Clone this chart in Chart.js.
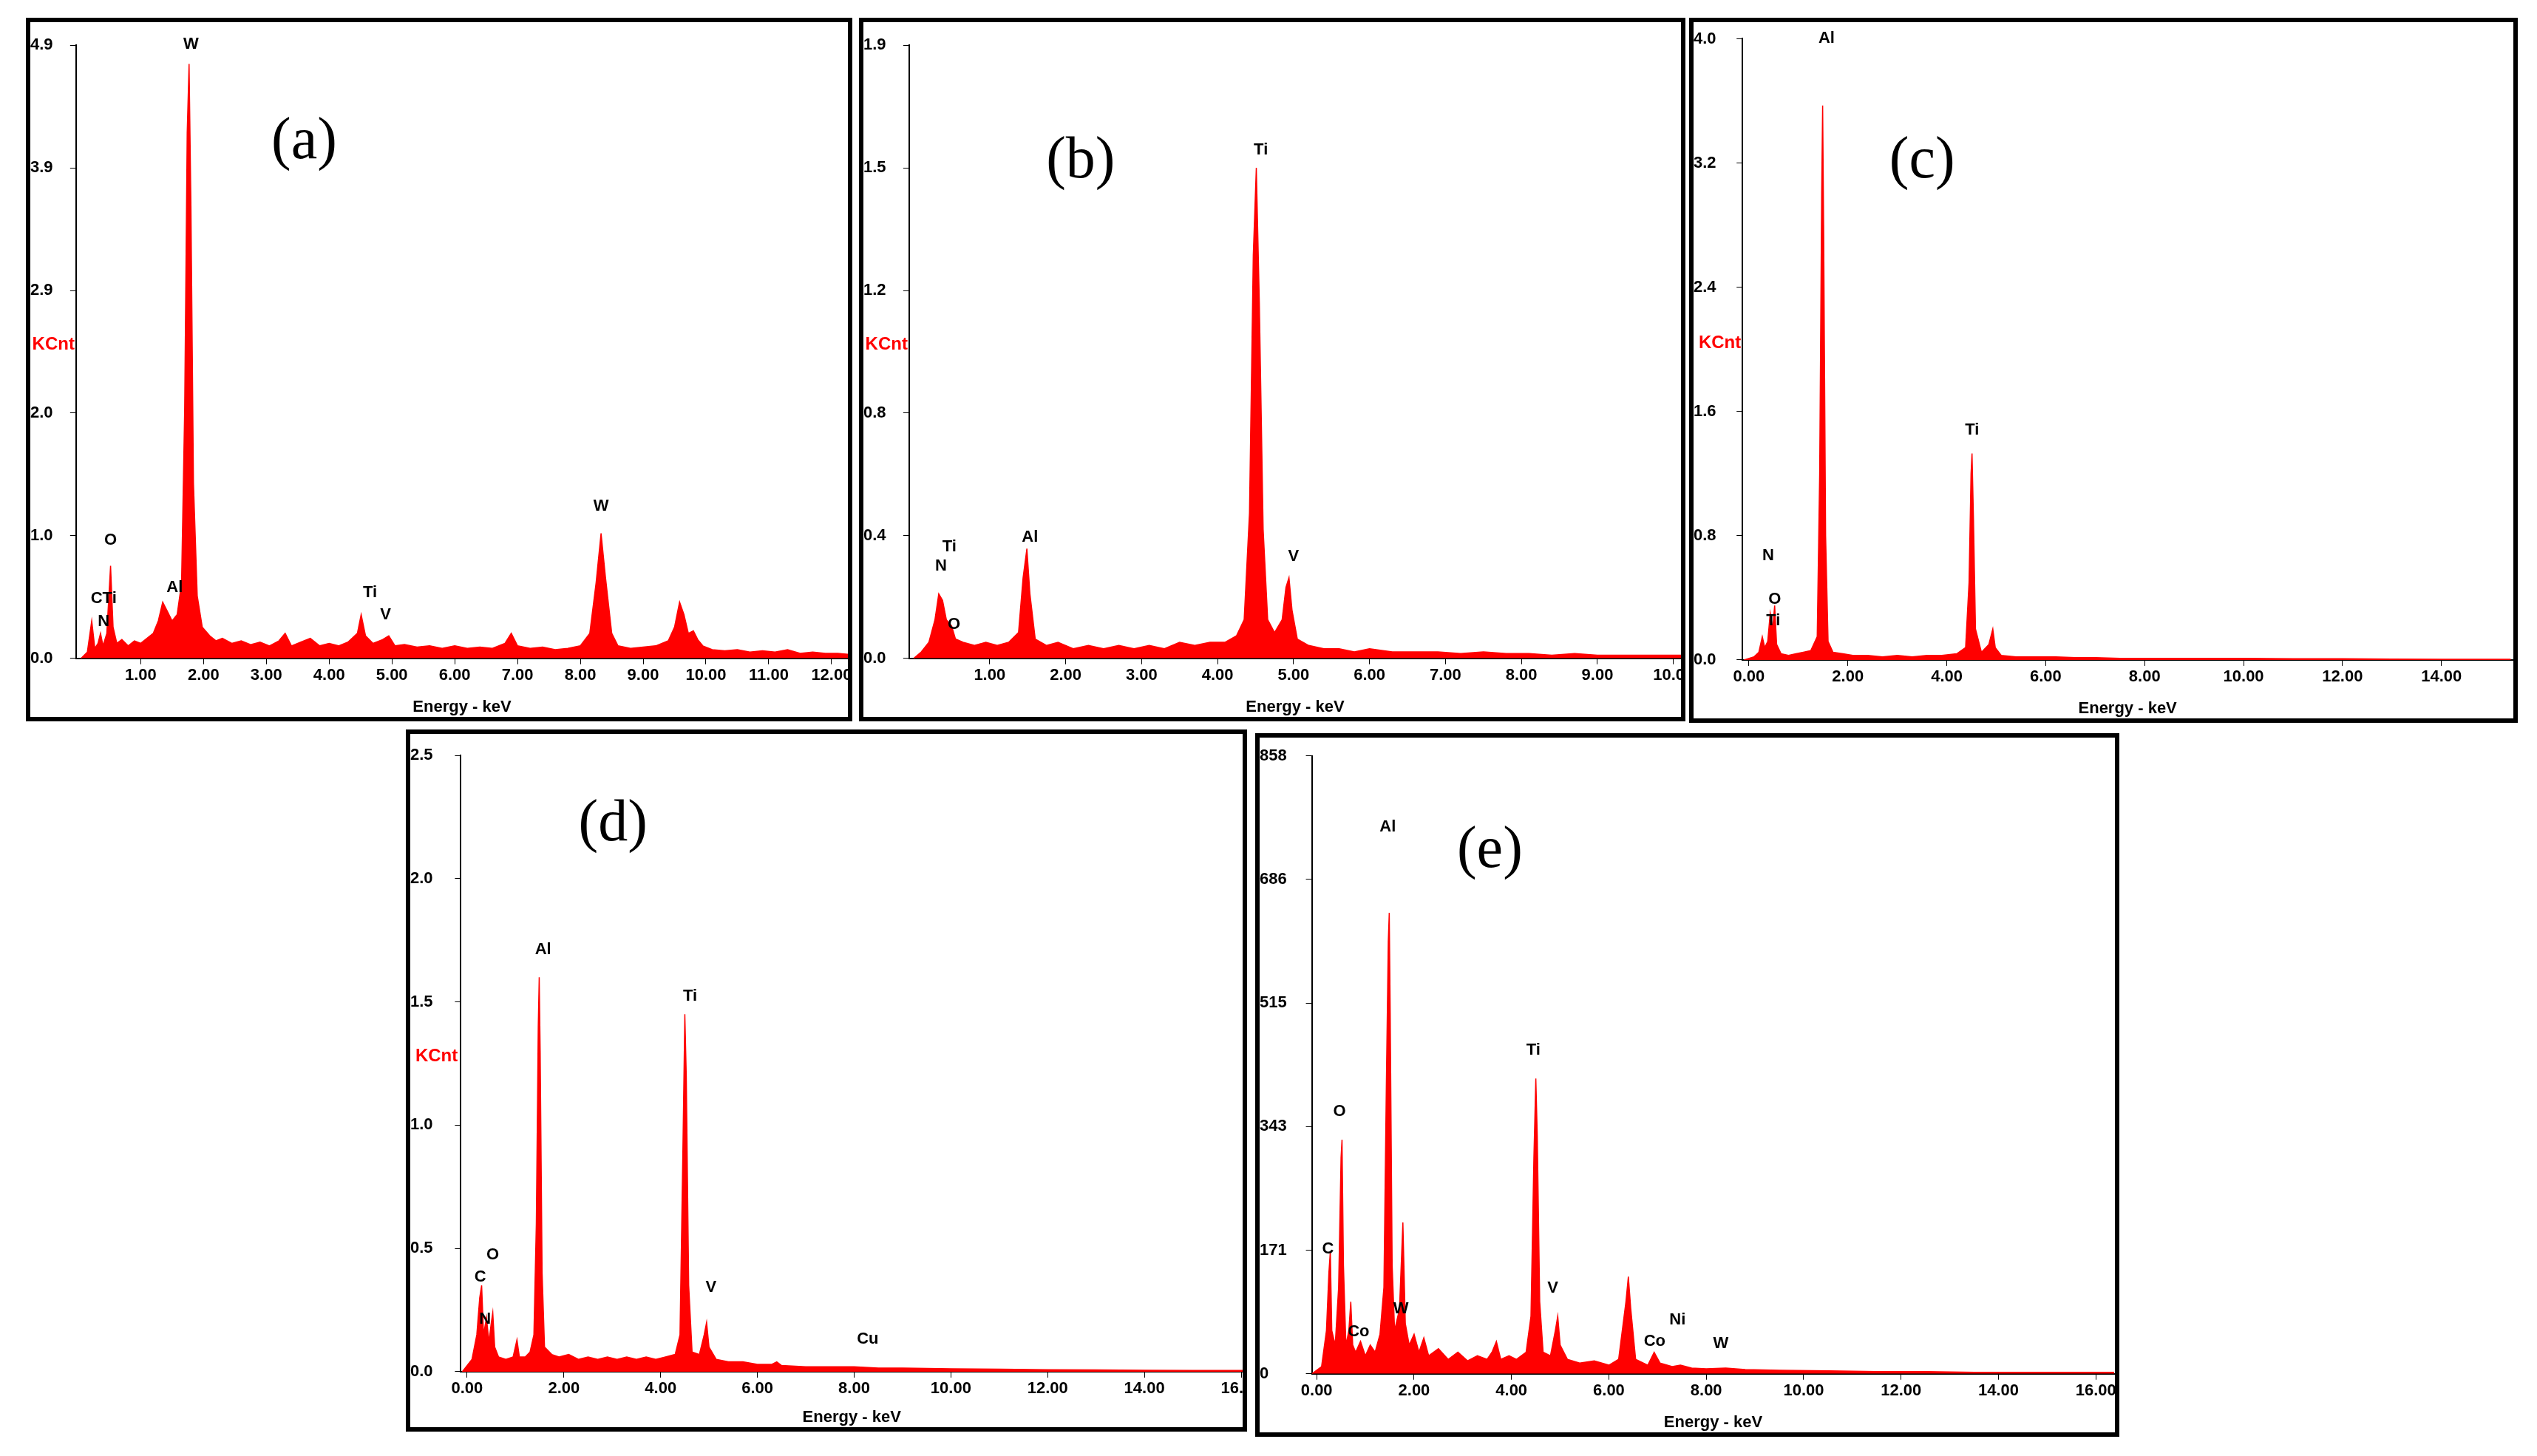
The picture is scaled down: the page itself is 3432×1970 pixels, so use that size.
<!DOCTYPE html>
<html>
<head>
<meta charset="utf-8">
<script src="https://cdn.jsdelivr.net/npm/chart.js@4.4.0/dist/chart.umd.min.js"></script>
<style>
  body { margin: 0; background: #fff; width: 3432px; height: 1970px; position: relative; overflow: hidden; }
  .panel { position: absolute; border: 6px solid #000; box-sizing: border-box; overflow: hidden; }
  canvas { display: block; }
</style>
</head>
<body>
<script>
// spectra: [energy keV, counts]
const spectrumA = [[0.05,0],[0.15,0.05],[0.22,0.3],[0.27,0.08],[0.32,0.12],[0.36,0.2],[0.40,0.1],[0.46,0.2],[0.52,0.74],[0.56,0.25],[0.62,0.12],[0.7,0.15],[0.8,0.1],[0.9,0.14],[1.0,0.12],[1.1,0.16],[1.2,0.2],[1.28,0.3],[1.35,0.45],[1.42,0.38],[1.5,0.3],[1.58,0.35],[1.65,0.6],[1.7,2.0],[1.74,4.2],[1.77,4.75],[1.8,3.6],[1.84,1.4],[1.9,0.5],[1.98,0.25],[2.1,0.18],[2.2,0.14],[2.3,0.16],[2.45,0.12],[2.6,0.14],[2.75,0.11],[2.9,0.13],[3.05,0.1],[3.2,0.14],[3.3,0.2],[3.4,0.1],[3.55,0.13],[3.7,0.16],[3.85,0.1],[4.0,0.12],[4.15,0.1],[4.3,0.13],[4.45,0.2],[4.51,0.35],[4.58,0.18],[4.7,0.12],[4.85,0.15],[4.95,0.18],[5.05,0.1],[5.2,0.11],[5.4,0.09],[5.6,0.1],[5.8,0.08],[6.0,0.1],[6.2,0.08],[6.4,0.09],[6.6,0.08],[6.8,0.12],[6.9,0.2],[7.0,0.1],[7.2,0.08],[7.4,0.09],[7.6,0.07],[7.8,0.08],[8.0,0.1],[8.15,0.2],[8.25,0.6],[8.33,1.0],[8.4,0.65],[8.5,0.2],[8.6,0.1],[8.8,0.08],[9.0,0.09],[9.2,0.1],[9.4,0.14],[9.5,0.25],[9.58,0.45],[9.65,0.35],[9.72,0.2],[9.8,0.22],[9.87,0.15],[9.95,0.1],[10.1,0.07],[10.3,0.06],[10.5,0.07],[10.7,0.05],[10.9,0.06],[11.1,0.05],[11.3,0.07],[11.5,0.04],[11.7,0.05],[11.9,0.04],[12.1,0.04],[12.3,0.03]];
const spectrumB = [[0,0],[0.1,0.02],[0.2,0.05],[0.28,0.12],[0.33,0.2],[0.38,0.18],[0.43,0.12],[0.5,0.1],[0.55,0.06],[0.65,0.05],[0.8,0.04],[0.95,0.05],[1.1,0.04],[1.25,0.05],[1.38,0.08],[1.44,0.25],[1.49,0.34],[1.53,0.2],[1.6,0.06],[1.75,0.04],[1.9,0.05],[2.1,0.03],[2.3,0.04],[2.5,0.03],[2.7,0.04],[2.9,0.03],[3.1,0.04],[3.3,0.03],[3.5,0.05],[3.7,0.04],[3.9,0.05],[4.1,0.05],[4.25,0.07],[4.35,0.12],[4.42,0.45],[4.47,1.25],[4.51,1.52],[4.55,1.1],[4.6,0.4],[4.66,0.12],[4.75,0.08],[4.85,0.12],[4.9,0.22],[4.94,0.25],[4.98,0.15],[5.05,0.06],[5.2,0.04],[5.4,0.03],[5.6,0.03],[5.8,0.02],[6.0,0.03],[6.3,0.02],[6.6,0.02],[6.9,0.02],[7.2,0.015],[7.5,0.02],[7.8,0.015],[8.1,0.015],[8.4,0.01],[8.7,0.015],[9.0,0.01],[9.3,0.01],[9.6,0.01],[10.1,0.01]];
const spectrumC = [[-0.1,0],[0.1,0.02],[0.2,0.05],[0.27,0.15],[0.32,0.08],[0.38,0.12],[0.43,0.3],[0.48,0.2],[0.52,0.35],[0.56,0.1],[0.65,0.04],[0.8,0.03],[0.95,0.04],[1.1,0.05],[1.25,0.06],[1.38,0.15],[1.43,1.2],[1.47,3.0],[1.49,3.57],[1.51,2.8],[1.55,0.8],[1.6,0.12],[1.7,0.05],[1.9,0.04],[2.1,0.03],[2.4,0.03],[2.7,0.02],[3.0,0.03],[3.3,0.02],[3.6,0.03],[3.9,0.03],[4.2,0.04],[4.38,0.08],[4.45,0.5],[4.49,1.2],[4.51,1.33],[4.54,0.9],[4.58,0.2],[4.7,0.05],[4.85,0.1],[4.93,0.2],[4.98,0.08],[5.1,0.03],[5.4,0.02],[5.8,0.02],[6.2,0.02],[6.6,0.015],[7.0,0.015],[7.5,0.01],[8.0,0.01],[8.5,0.01],[9.0,0.01],[9.5,0.01],[10.0,0.01],[11.0,0.008],[12.0,0.008],[13.0,0.006],[14.0,0.005],[15.4,0.005]];
const spectrumD = [[-0.1,0],[0.1,0.05],[0.2,0.15],[0.26,0.3],[0.3,0.35],[0.34,0.15],[0.4,0.22],[0.45,0.12],[0.5,0.2],[0.53,0.24],[0.57,0.1],[0.65,0.06],[0.8,0.05],[0.95,0.06],[1.03,0.13],[1.08,0.06],[1.2,0.06],[1.3,0.08],[1.38,0.15],[1.43,0.6],[1.47,1.4],[1.49,1.6],[1.51,1.3],[1.55,0.4],[1.6,0.1],[1.75,0.07],[1.9,0.06],[2.1,0.07],[2.3,0.05],[2.5,0.06],[2.7,0.05],[2.9,0.06],[3.1,0.05],[3.3,0.06],[3.5,0.05],[3.7,0.06],[3.9,0.05],[4.1,0.06],[4.3,0.07],[4.4,0.15],[4.46,0.9],[4.5,1.45],[4.53,1.2],[4.58,0.35],[4.65,0.08],[4.8,0.07],[4.9,0.15],[4.95,0.2],[5.0,0.1],[5.15,0.05],[5.4,0.04],[5.7,0.04],[6.0,0.03],[6.3,0.03],[6.4,0.04],[6.5,0.025],[7.0,0.02],[7.5,0.02],[8.0,0.02],[8.5,0.015],[9.0,0.015],[10.0,0.012],[11.0,0.01],[12.0,0.008],[13.0,0.007],[14.0,0.006],[15.0,0.005],[16.1,0.005]];
const spectrumE = [[-0.1,0],[0.1,10],[0.2,60],[0.25,140],[0.28,170],[0.31,60],[0.38,40],[0.45,120],[0.5,300],[0.52,325],[0.55,150],[0.6,40],[0.66,60],[0.7,100],[0.74,40],[0.8,30],[0.9,45],[1.0,25],[1.1,40],[1.2,30],[1.3,55],[1.38,120],[1.43,400],[1.47,600],[1.49,640],[1.51,500],[1.55,150],[1.6,60],[1.7,90],[1.77,210],[1.82,70],[1.9,40],[2.0,55],[2.1,30],[2.2,50],[2.3,25],[2.5,35],[2.7,20],[2.9,30],[3.1,18],[3.3,25],[3.5,20],[3.6,30],[3.69,45],[3.78,20],[3.95,25],[4.1,20],[4.3,30],[4.4,80],[4.46,300],[4.5,410],[4.53,330],[4.58,100],[4.65,30],[4.8,25],[4.9,60],[4.95,80],[5.0,40],[5.15,20],[5.4,15],[5.7,18],[6.0,12],[6.2,20],[6.35,100],[6.4,135],[6.45,90],[6.55,20],[6.8,12],[6.93,30],[7.05,15],[7.3,10],[7.47,12],[7.7,8],[8.0,7],[8.4,8],[8.8,6],[9.5,5],[10.5,4],[11.5,3],[12.5,3],[13.5,2],[14.5,2],[15.5,2],[16.38,2]];

// element labels: [text, energy, counts at text bottom]
const peaksA = [['W',1.8,4.84],['O',0.52,0.88],['CTi',0.41,0.41],['N',0.41,0.23],['Al',1.54,0.5],['Ti',4.65,0.46],['V',4.9,0.28],['W',8.33,1.15]];
const peaksB = [['Ti',0.47,0.32],['N',0.36,0.26],['O',0.53,0.08],['Al',1.53,0.35],['Ti',4.57,1.55],['V',5.0,0.29]];
const peaksC = [['Al',1.57,3.95],['N',0.39,0.62],['O',0.52,0.34],['Ti',0.49,0.2],['Ti',4.51,1.43]];
const peaksD = [['Al',1.57,1.68],['Ti',4.61,1.49],['O',0.53,0.44],['C',0.27,0.35],['N',0.37,0.18],['V',5.04,0.31],['Cu',8.28,0.1]];
const peaksE = [['Al',1.46,748],['O',0.47,353],['C',0.23,162],['W',1.73,79],['Co',0.86,47],['Ti',4.45,438],['V',4.85,108],['Co',6.94,34],['Ni',7.41,63],['W',8.3,31]];

// tick labels
const yTicksA = ['0.0','1.0','2.0','2.9','3.9','4.9'];
const yTicksB = ['0.0','0.4','0.8','1.2','1.5','1.9'];
const yTicksC = ['0.0','0.8','1.6','2.4','3.2','4.0'];
const yTicksD = ['0.0','0.5','1.0','1.5','2.0','2.5'];
const yTicksE = ['0','171','343','515','686','858'];
const xTicksA = [1,2,3,4,5,6,7,8,9,10,11,12];
const xTicksB = [1,2,3,4,5,6,7,8,9,10];
const xTicksC = [0,2,4,6,8,10,12,14];
const xTicksD = [0,2,4,6,8,10,12,14,16];
const xTicksE = [0,2,4,6,8,10,12,14,16];

const S = 3432 / 1568;

const panels = [
  { tag: '(a)', data: spectrumA, peaks: peaksA, yTicks: yTicksA, yMax: 4.9, xTicks: xTicksA, xMin: -0.03, xMax: 12.26,
    box: [16, 11, 511, 435], plot: [31, 17, 509, 396], tagPos: [172, 77], kcnt: [17, 202] },
  { tag: '(b)', data: spectrumB, peaks: peaksB, yTicks: yTicksB, yMax: 1.9, xTicks: xTicksB, xMin: -0.06, xMax: 10.1,
    box: [531, 11, 511, 435], plot: [31, 17, 509, 396], tagPos: [137, 89], kcnt: [17, 202] },
  { tag: '(c)', data: spectrumC, peaks: peaksC, yTicks: yTicksC, yMax: 4.0, xTicks: xTicksC, xMin: -0.13, xMax: 15.44,
    box: [1044, 11, 512, 436], plot: [33, 13, 509, 397], tagPos: [144, 89], kcnt: [19, 201] },
  { tag: '(d)', data: spectrumD, peaks: peaksD, yTicks: yTicksD, yMax: 2.5, xTicks: xTicksD, xMin: -0.13, xMax: 16.03,
    box: [251, 451, 520, 434], plot: [34, 16, 518, 397], tagPos: [128, 59], kcnt: [19, 202] },
  { tag: '(e)', data: spectrumE, peaks: peaksE, yTicks: yTicksE, yMax: 858, xTicks: xTicksE, xMin: -0.1, xMax: 16.38,
    box: [776, 453, 534, 435], plot: [35, 14, 531, 396], tagPos: [145, 73], kcnt: null }
];

const B = 6;

const annotate = {
  id: 'annotate',
  afterDraw(chart) {
    const p = chart.options.plugins.annotate;
    const ctx = chart.ctx;
    const xs = chart.scales.x, ys = chart.scales.y;
    ctx.save();
    ctx.fillStyle = '#000';
    ctx.font = 'bold 22px "Liberation Sans", Arial, sans-serif';
    ctx.textAlign = 'center';
    ctx.textBaseline = 'bottom';
    for (let pk of p.peaks) {
      ctx.fillText(pk[0], xs.getPixelForValue(pk[1]), ys.getPixelForValue(pk[2]));
    }
    if (p.kcnt) {
      ctx.fillStyle = '#ff0000';
      ctx.font = 'bold 24px "Liberation Sans", Arial, sans-serif';
      ctx.textBaseline = 'middle';
      ctx.fillText('KCnt', p.kcnt[0] * S - B, p.kcnt[1] * S - B);
    }
    ctx.fillStyle = '#000';
    ctx.font = '80px "Liberation Serif", "Times New Roman", serif';
    ctx.textAlign = 'center';
    ctx.textBaseline = 'middle';
    ctx.fillText(p.tag, p.tagPos[0] * S - B, p.tagPos[1] * S - B);
    ctx.restore();
  }
};

for (let p of panels) {
  const div = document.createElement('div');
  div.className = 'panel';
  const W = Math.round(p.box[2] * S), H = Math.round(p.box[3] * S);
  div.style.left = Math.round(p.box[0] * S) + 'px';
  div.style.top = Math.round(p.box[1] * S) + 'px';
  div.style.width = W + 'px';
  div.style.height = H + 'px';
  const cv = document.createElement('canvas');
  cv.width = W - 2 * B;
  cv.height = H - 2 * B;
  cv.style.width = (W - 2 * B) + 'px';
  cv.style.height = (H - 2 * B) + 'px';
  div.appendChild(cv);
  document.body.appendChild(div);

  const left = p.plot[0] * S - B, top = p.plot[1] * S - B;
  const right = p.plot[2] * S - B, bottom = p.plot[3] * S - B;
  const n = p.yTicks.length;

  new Chart(cv.getContext('2d'), {
    type: 'line',
    data: {
      datasets: [{
        data: p.data.map(d => ({ x: d[0], y: d[1] })),
        borderColor: '#ff0000',
        backgroundColor: '#ff0000',
        borderWidth: 1.5,
        fill: 'origin',
        pointRadius: 0,
        tension: 0
      }]
    },
    options: {
      responsive: false,
      devicePixelRatio: 1,
      animation: false,
      layout: { padding: { left: 0, top: top, right: cv.width - right, bottom: 0 } },
      plugins: {
        legend: { display: false },
        tooltip: { enabled: false },
        annotate: { peaks: p.peaks, kcnt: p.kcnt, tag: p.tag, tagPos: p.tagPos }
      },
      scales: {
        x: {
          type: 'linear',
          min: p.xMin,
          max: p.xMax,
          afterBuildTicks: s => { s.ticks = p.xTicks.map(v => ({ value: v })); },
          afterFit: s => { s.height = cv.height - bottom; s.paddingLeft = 0; s.paddingRight = 0; },
          ticks: {
            color: '#000',
            font: { family: '"Liberation Sans", Arial, sans-serif', size: 22, weight: 'bold' },
            callback: v => v.toFixed(2),
            maxRotation: 0,
            autoSkip: false,
            padding: 2
          },
          grid: { drawOnChartArea: false, tickLength: 8, color: '#000' },
          border: { color: '#000', width: 2 },
          title: {
            display: true,
            text: 'Energy - keV',
            color: '#000',
            font: { family: '"Liberation Sans", Arial, sans-serif', size: 22, weight: 'bold' },
            padding: 0
          }
        },
        y: {
          min: 0,
          max: p.yMax,
          afterBuildTicks: s => { s.ticks = p.yTicks.map((t, i) => ({ value: p.yMax * i / (n - 1) })); },
          afterFit: s => { s.width = left; s.paddingTop = 0; s.paddingBottom = 0; },
          ticks: {
            color: '#000',
            font: { family: '"Liberation Sans", Arial, sans-serif', size: 22, weight: 'bold' },
            callback: (v, i) => p.yTicks[i],
            autoSkip: false,
            crossAlign: 'far',
            padding: 2
          },
          grid: { drawOnChartArea: false, tickLength: 8, color: '#000' },
          border: { color: '#000', width: 2 }
        }
      }
    },
    plugins: [annotate]
  });
}
</script>
</body>
</html>
